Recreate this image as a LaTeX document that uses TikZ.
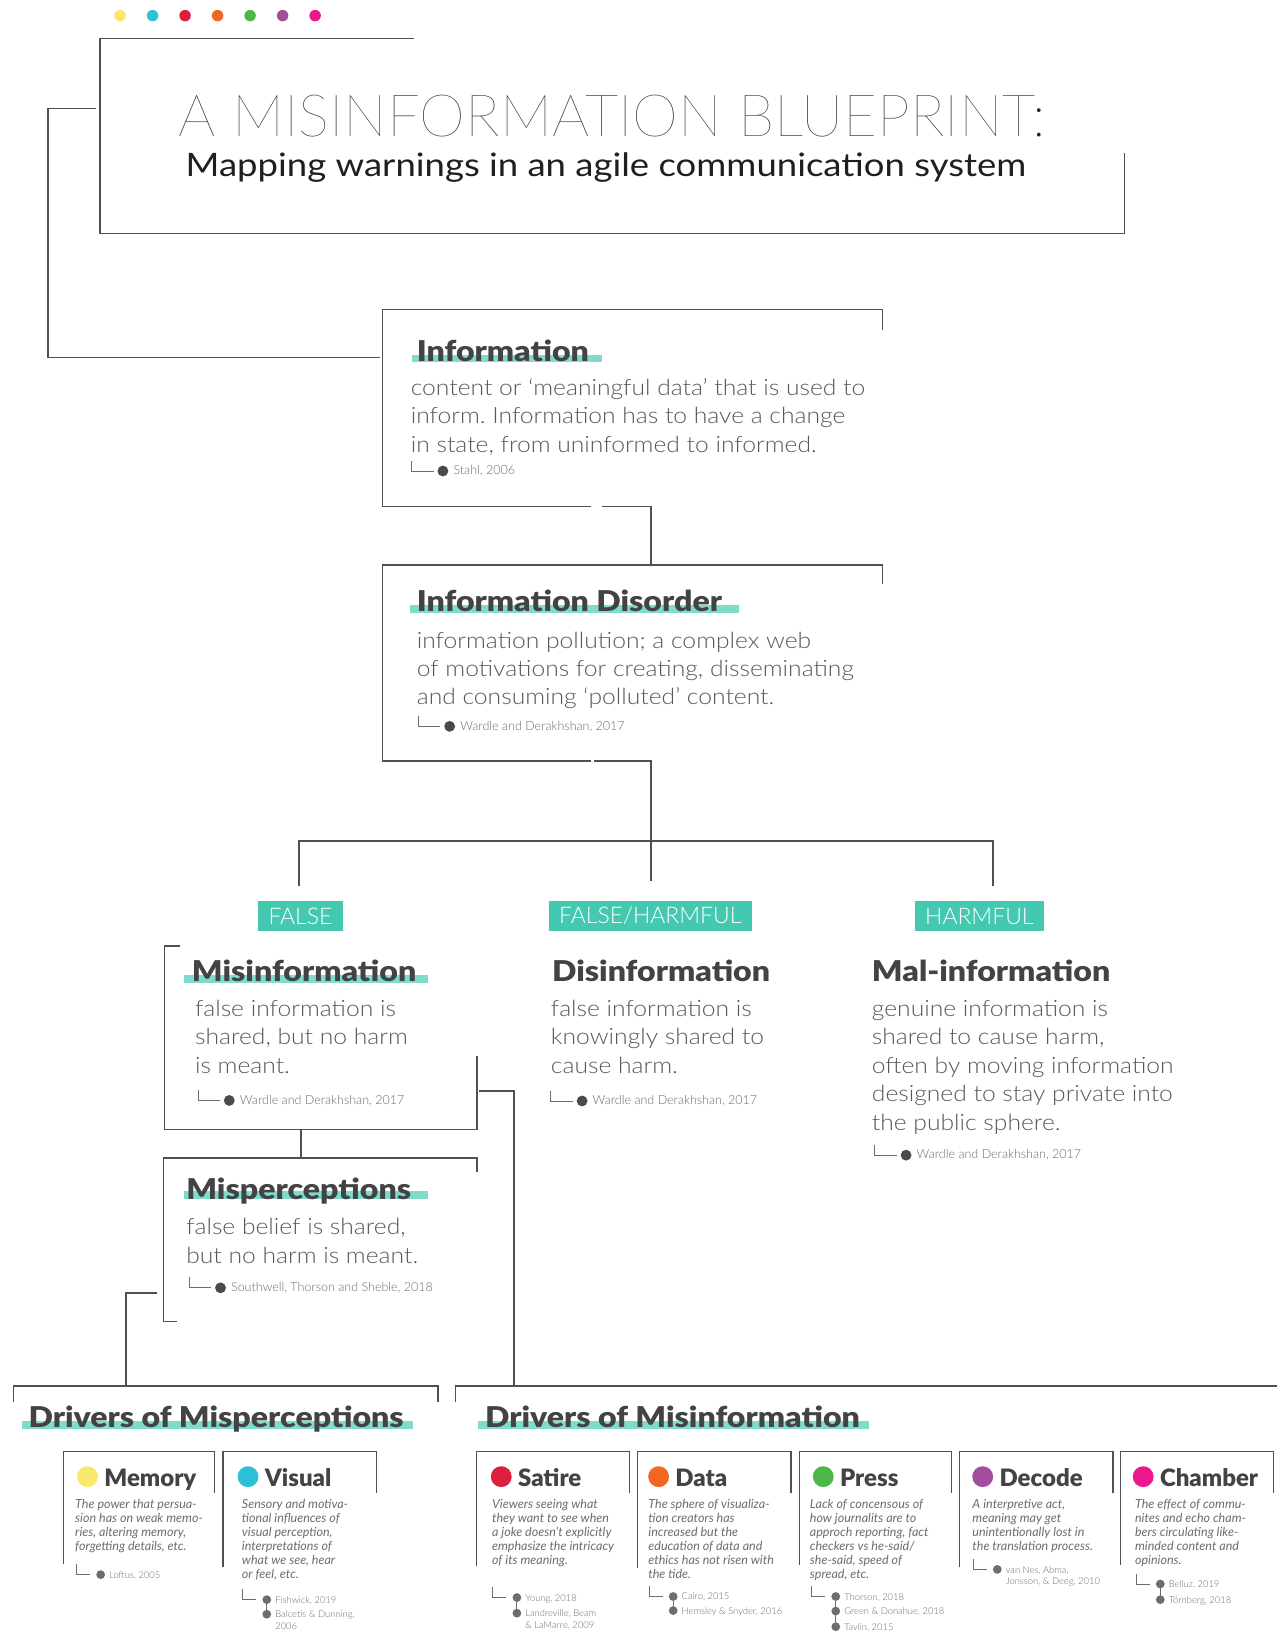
\documentclass[tikz,border=0pt]{standalone}
\usepackage{fontspec}
\setmainfont{Lato}
\newfontfamily\subfont{Lato}[FakeStretch=1.13]
\IfFontExistsTF{Lato Light}{%
  \newfontfamily\lightfont{Lato Light}%
  \newfontfamily\bodyfont{Lato Light}[FakeStretch=1.1]}{%
  \newfontfamily\lightfont{Lato}%
  \newfontfamily\bodyfont{Lato}[FakeStretch=1.1]}
\IfFontExistsTF{Lato Hairline}{\newfontfamily\hairfont{Lato Hairline}}{\let\hairfont\lightfont}
\IfFontExistsTF{Lato Black}{%
  \newfontfamily\heavyfont{Lato Black}[FakeStretch=1.12]%
  \newfontfamily\cardfont{Lato Black}}{%
  \newfontfamily\heavyfont{Lato}[UprightFont=*, BoldFont=*, FakeStretch=1.12]%
  \newcommand\cardfont{\bfseries}}
\frenchspacing

\definecolor{wiregray}{HTML}{505052}
\definecolor{headgray}{HTML}{434345}
\definecolor{bodygray}{HTML}{58585A}
\definecolor{citegray}{HTML}{6D6D6F}
\definecolor{dotgray}{HTML}{4A4A4C}
\definecolor{tagteal}{HTML}{44C8AF}
\definecolor{barteal}{HTML}{80DCCA}
\definecolor{memyellow}{HTML}{F9E86C}
\definecolor{viscyan}{HTML}{2DC0D7}
\definecolor{satred}{HTML}{DB1F3F}
\definecolor{dataorange}{HTML}{F26623}
\definecolor{pressgreen}{HTML}{4DB848}
\definecolor{decpurple}{HTML}{A24D9E}
\definecolor{champink}{HTML}{EC178C}

% reference under a definition: elbow, dot, text
\newcommand{\source}[4]{%
  \draw[elbow] (#2,#3-10) |- (#2+21,#3);
  \fill[dotgray] (#2+30,#3) circle (5.2);
  \node[cite] (#1) at (#2+40,#3) {#4};}
% references under a driver card
\newcommand{\cardref}[4]{%
  \draw[elbow] (#2,#3-10) |- (#2+13,#3);
  \fill[citegray] (#2+23,#3) circle (4.2);
  \node[smallcite] (#1) at (#2+31,#3-3.3) {#4};}
\newcommand{\nextref}[5]{%
  \draw[elbow] (#2+23,#4) -- (#2+23,#3);
  \fill[citegray] (#2+23,#3) circle (4.2);
  \node[smallcite] (#1) at (#2+31,#3-3.3) {#5};}
% coloured dot and title of a driver card
\newcommand{\cardhead}[4]{%
  \fill[#3] (#2,1417) circle (10);
  \node[cardtitle] (#1) at (#2+16,1426.5) {#4};}

\begin{document}
\begin{tikzpicture}[x=1pt, y=-1pt,
    wire/.style={draw=wiregray, line width=1.6pt},
    cardwire/.style={draw=wiregray, line width=1.2pt},
    elbow/.style={draw=citegray, line width=0.8pt},
    tag/.style={fill=tagteal, text=white, inner xsep=10pt, inner ysep=0pt, minimum height=28pt,
      font=\lightfont\fontsize{22}{22}\selectfont},
    term/.style={anchor=base west, inner sep=0pt, text=headgray, font=\heavyfont\fontsize{27.5}{27.5}\selectfont},
    defn/.style={anchor=north west, inner sep=0pt, align=left, text=bodygray,
      font=\bodyfont\fontsize{21.5}{27.3}\selectfont},
    cite/.style={anchor=west, inner sep=0pt, text=citegray, font=\lightfont\fontsize{12}{14}\selectfont},
    smallcite/.style={anchor=north west, inner sep=0pt, align=left, text=citegray,
      font=\lightfont\fontsize{9}{11}\selectfont},
    cardtitle/.style={anchor=base west, inner sep=0pt, text=headgray, font=\cardfont\fontsize{23}{23}\selectfont},
    carddesc/.style={anchor=north west, inner sep=0pt, align=left, text=citegray,
      font=\itshape\fontsize{12}{13.4}\selectfont}
  ]
  \fill[white] (0,0) rectangle (1225,1568);
  \useasboundingbox (0,0) rectangle (1225,1568);

  % colour key
  \foreach \c [count=\i] in {memyellow,viscyan,satred,dataorange,pressgreen,decpurple,champink}
    \fill[\c] (84+31.2*\i,15) circle (5.5);

  % title
  \draw[wire] (397,37) -- (96,37) -- (96,224) -- (1079,224) -- (1079,147);
  \node[anchor=base west, inner sep=0pt, text=black!85, font=\hairfont\fontsize{56}{56}\selectfont]
    (title) at (171,131) {A MISINFORMATION BLUEPRINT:};
  \node[anchor=base west, inner sep=0pt, text=black!88, font=\subfont\fontsize{31}{31}\selectfont]
    (subtitle) at (178,169.5) {Mapping warnings in an agile communication system};

  % connection points
  \coordinate (titleport) at (92,104);
  \coordinate (infoport) at (365,343);
  \coordinate (infoout) at (578,486);
  \coordinate (disorderin) at (625,542);
  \coordinate (disorderout) at (570,730);
  \coordinate (hub) at (625,807);
  \coordinate (falsedrop) at (287,850);
  \coordinate (bothdrop) at (625,845);
  \coordinate (harmdrop) at (953,850);
  \coordinate (misinfoout) at (289,1084);
  \coordinate (mispin) at (289,1111);
  \coordinate (misinfoport) at (460,1047);
  \coordinate (drvinfoin) at (493,1330);
  \coordinate (mispport) at (151,1241);
  \coordinate (drvperin) at (121,1330);

  % frames
  \draw[wire] (847,317) -- (847,297) -- (367,297) -- (367,486) -- (567,486);
  \draw[wire] (847,560) -- (847,542) -- (367,542) -- (367,730) -- (567,730);
  \draw[wire] (173,908) -- (158,908) -- (158,1084) -- (458,1084) -- (458,1013);
  \draw[wire] (458,1125) -- (458,1111) -- (157,1111) -- (157,1268) -- (170,1268);
  \draw[wire] (13,1345) -- (13,1330) -- (420,1330) -- (420,1345);
  \draw[wire] (437,1345) -- (437,1330) -- (1225,1330);
  \foreach \l/\r/\b in {61/206/1501, 214/361/1504, 457/604/1503, 612/759/1505,
                        767/913/1502, 921/1068/1504, 1075/1222/1502}
    \draw[cardwire] (\l,\b) -- (\l,1393) -- (\r,1393) -- (\r,1433);

  % connectors
  \draw[wire] (titleport) -- ++(-46,0) |- (infoport);
  \draw[wire] (infoout) -| (disorderin);
  \draw[wire] (disorderout) -| (hub) -- (bothdrop);
  \draw[wire] (falsedrop) -- (falsedrop |- hub) -- (harmdrop |- hub) -- (harmdrop);
  \draw[wire] (misinfoout) -- (mispin);
  \draw[wire] (misinfoport) -| (drvinfoin);
  \draw[wire] (mispport) -| (drvperin);

  % Information
  \fill[barteal] (395,340.6) rectangle (577.5,347.3);
  \node[term] (info) at (399.8,347.3) {Information};
  \node[defn] (infotext) at (394,363) {content or ‘meaningful data’ that is used to\\inform. Information has to have a change\\in state, from uninformed to informed.};
  \source{infosrc}{395}{452}{Stahl, 2006}

  % Information Disorder
  \fill[barteal] (393.3,580.4) rectangle (708.7,587.8);
  \node[term] (disorder) at (399.8,586.8) {Information Disorder};
  \node[defn] (disordertext) at (399.8,606) {information pollution; a complex web\\of motivations for creating, disseminating\\and consuming ‘polluted’ content.};
  \source{disordersrc}{401.5}{697}{Wardle and Derakhshan, 2017}

  % three kinds
  \node[tag] (falsetag) at (288.3,879) {FALSE};
  \node[tag] (bothtag) at (624,879) {FALSE/HARMFUL};
  \node[tag] (harmtag) at (939.8,879) {HARMFUL};

  \fill[barteal] (176.5,936) rectangle (410.6,943);
  \node[term] (misinfo) at (184,942) {Misinformation};
  \node[defn] (misinfotext) at (187,959.4) {false information is\\shared, but no harm\\is meant.};
  \source{misinfosrc}{190}{1056}{Wardle and Derakhshan, 2017}

  \node[term] (disinfo) at (529.6,942) {Disinformation};
  \node[defn] (disinfotext) at (528.5,959.4) {false information is\\knowingly shared to\\cause harm.};
  \source{disinfosrc}{528.6}{1056.5}{Wardle and Derakhshan, 2017}

  \node[term] (malinfo) at (836.5,942) {Mal-information};
  \node[defn] (malinfotext) at (836.5,959.6) {genuine information is\\shared to cause harm,\\often by moving information\\designed to stay private into\\the public sphere.};
  \source{malinfosrc}{839.5}{1108.5}{Wardle and Derakhshan, 2017}

  % Misperceptions
  \fill[barteal] (176.5,1143.3) rectangle (410.6,1151);
  \node[term] (misp) at (178.6,1151) {Misperceptions};
  \node[defn] (misptext) at (178.6,1169) {false belief is shared,\\but no harm is meant.};
  \source{mispsrc}{181.6}{1235.8}{Southwell, Thorson and Sheble, 2018}

  % drivers
  \fill[barteal] (20.8,1363.8) rectangle (396,1371);
  \node[term] (drvper) at (27.2,1370) {Drivers of Misperceptions};
  \fill[barteal] (458.9,1363.8) rectangle (834,1371);
  \node[term] (drvinfo) at (465.3,1370) {Drivers of Misinformation};

  \cardhead{memory}{84}{memyellow}{Memory}
  \node[carddesc] (memorytext) at (72,1438.3) {The power that persua-\\sion has on weak memo-\\ries, altering memory,\\forgetting details, etc.};
  \cardref{memorysrc}{73.6}{1511}{Loftus, 2005}

  \cardhead{visual}{238}{viscyan}{Visual}
  \node[carddesc] (visualtext) at (232,1438.3) {Sensory and motiva-\\tional influences of\\visual perception,\\interpretations of\\what we see, hear\\or feel, etc.};
  \cardref{visualsrc}{233}{1535}{Fishwick, 2019}
  \nextref{visualsrcb}{233}{1549}{1535}{Balcetis \& Dunning,\\2006}

  \cardhead{satire}{481}{satred}{Satire}
  \node[carddesc] (satiretext) at (472,1438.3) {Viewers seeing what\\they want to see when\\a joke doesn’t explicitly\\emphasize the intricacy\\of its meaning.};
  \cardref{satiresrc}{473}{1533}{Young, 2018}
  \nextref{satiresrcb}{473}{1548}{1533}{Landreville, Beam\\\& LaMarre, 2009}

  \cardhead{data}{632}{dataorange}{Data}
  \node[carddesc] (datatext) at (622,1438.3) {The sphere of visualiza-\\tion creators has\\increased but the\\education of data and\\ethics has not risen with\\the tide.};
  \cardref{datasrc}{623}{1532}{Cairo, 2015}
  \nextref{datasrcb}{623}{1545.5}{1532}{Hemsley \& Snyder, 2016}

  \cardhead{press}{790}{pressgreen}{Press}
  \node[carddesc] (presstext) at (777,1438.3) {Lack of concensous of\\how journalits are to\\approch reporting, fact\\checkers vs he-said/\\she-said, speed of\\spread, etc.};
  \cardref{presssrc}{779}{1532}{Thorson, 2018}
  \nextref{presssrcb}{779}{1546}{1532}{Green \& Donahue, 2018}
  \nextref{presssrcc}{779}{1561}{1546}{Tavlin, 2015}

  \cardhead{decode}{943}{decpurple}{Decode}
  \node[carddesc] (decodetext) at (933,1438.3) {A interpretive act,\\meaning may get\\unintentionally lost in\\the translation process.};
  \cardref{decodesrc}{934}{1506}{van Nes, Abma,\\Jonsson, \& Deeg, 2010}

  \cardhead{chamber}{1097}{champink}{Chamber}
  \node[carddesc] (chambertext) at (1089,1438.3) {The effect of commu-\\nites and echo cham-\\bers circulating like-\\minded content and\\opinions.};
  \cardref{chambersrc}{1090.4}{1520}{Belluz, 2019}
  \nextref{chambersrcb}{1090.4}{1535}{1520}{Törnberg, 2018}
\end{tikzpicture}
\end{document}
